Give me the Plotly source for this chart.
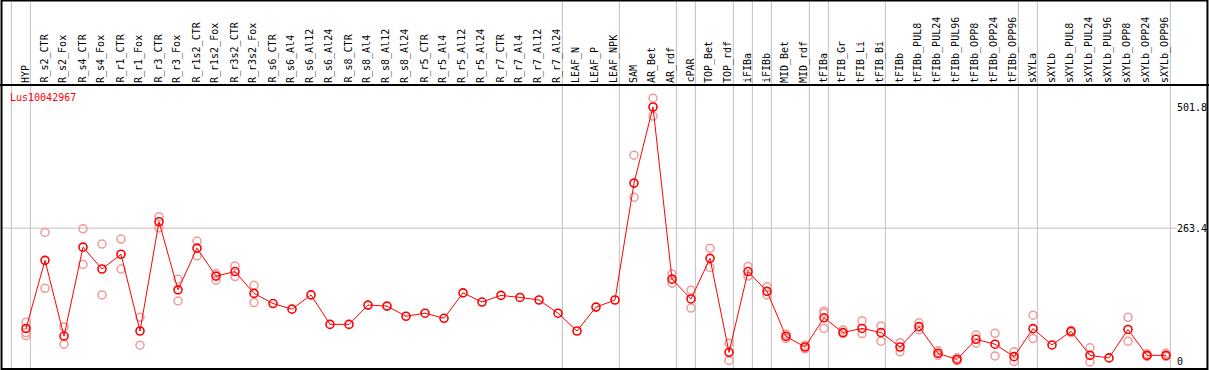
import plotly.graph_objects as go

gene_name = "Lus10042967"

categories = [
    "HYP", "R_s2_CTR", "R_s2_Fox", "R_s4_CTR", "R_s4_Fox", "R_r1_CTR", "R_r1_Fox",
    "R_r3_CTR", "R_r3_Fox", "R_r1s2_CTR", "R_r1s2_Fox", "R_r3s2_CTR", "R_r3s2_Fox",
    "R_s6_CTR", "R_s6_Al4", "R_s6_Al12", "R_s6_Al24", "R_s8_CTR", "R_s8_Al4",
    "R_s8_Al12", "R_s8_Al24", "R_r5_CTR", "R_r5_Al4", "R_r5_Al12", "R_r5_Al24",
    "R_r7_CTR", "R_r7_Al4", "R_r7_Al12", "R_r7_Al24", "LEAF_N", "LEAF_P", "LEAF_NPK",
    "SAM", "AR_Bet", "AR_rdf", "cPAR", "TOP_Bet", "TOP_rdf", "iFIBa", "iFIBb",
    "MID_Bet", "MID_rdf", "tFIBa", "tFIB_Gr", "tFIB_Li", "tFIB_Bi", "tFIBb",
    "tFIBb_PUL8", "tFIBb_PUL24", "tFIBb_PUL96", "tFIBb_OPP8", "tFIBb_OPP24",
    "tFIBb_OPP96", "sXYLa", "sXYLb", "sXYLb_PUL8", "sXYLb_PUL24", "sXYLb_PUL96",
    "sXYLb_OPP8", "sXYLb_OPP24", "sXYLb_OPP96",
]

means = [
    66, 200, 51, 226, 183, 212, 61, 276, 142, 224, 169, 178, 135,
    115, 104, 132, 74, 74, 112, 110, 90, 96, 86, 136, 118, 131, 127, 122, 96,
    61, 108, 122,
    352, 501.8, 163, 124, 204, 19, 178, 139, 50.5, 29.5,
    87, 58, 66, 58, 29.5, 69.5, 17, 5, 44.6, 35, 10.5,
    65.6, 33.5, 60.4, 13, 8, 64, 13, 13,
]

replicates = [
    [78, 58, 52], [255, 145], [69, 35], [262, 192], [232, 132], [242, 183], [88, 33],
    [286, 264], [163, 120], [238, 209], [174, 161], [189, 168], [151, 117],
    [], [], [], [], [], [], [], [], [], [], [], [], [], [], [], [],
    [], [], [],
    [407, 324], [519, 484], [173, 155], [141, 106], [224, 186], [37, 3],
    [188, 169], [148, 132], [55, 46], [33, 26],
    [100, 96, 66], [63, 56], [81, 56], [71, 41], [38, 20], [77, 63], [22, 13],
    [8.5, 2.6], [53, 37], [56.5, 12], [20, 1],
    [92, 46], [], [62, 58], [28, 0], [], [88, 41], [16, 11], [17, 11],
]

# index of the last category of each group (separator drawn after it)
group_ends = [-1, 0, 28, 31, 34, 35, 37, 38, 39, 41, 42, 45, 52, 53, 60]

y_tick_vals = [0, 263.4, 501.8]
y_grid_vals = [263.4]

FONT = "DejaVu Sans Mono"
xs = list(range(len(categories)))

rep_x, rep_y = [], []
for i, reps in enumerate(replicates):
    for v in reps:
        rep_x.append(i)
        rep_y.append(v)

fig = go.Figure()
fig.add_trace(go.Scatter(
    x=rep_x, y=rep_y, mode="markers",
    marker=dict(symbol="circle-open", size=8, color="#f29a9a", line=dict(width=1.5)),
    hoverinfo="skip", showlegend=False,
))
fig.add_trace(go.Scatter(
    x=xs, y=means, mode="lines+markers",
    line=dict(color="#ff0000", width=1),
    marker=dict(symbol="circle-open", size=8, color="#ff0000", line=dict(width=1.6)),
    showlegend=False,
))

shapes = []
for g in group_ends:
    shapes.append(dict(type="line", xref="x", yref="paper", x0=g + 0.23, x1=g + 0.23,
                       y0=0, y1=1.3, line=dict(color="#c0c0c0", width=1), layer="below"))
for v in y_grid_vals:
    shapes.append(dict(type="line", xref="paper", yref="y", x0=0, x1=1, y0=v, y1=v,
                       line=dict(color="#c0c0c0", width=1), layer="below"))
# top separator line and outer frame
shapes.append(dict(type="line", xref="paper", yref="paper", x0=-0.002, x1=1.03, y0=1, y1=1,
                   line=dict(color="black", width=2)))
shapes.append(dict(type="rect", xref="paper", yref="paper", x0=-0.0004, x1=1.0268,
                   y0=0, y1=1.2975, line=dict(color="black", width=2)))

annotations = []
for i, c in enumerate(categories):
    annotations.append(dict(x=i, y=1, xref="x", yref="paper", text=c, textangle=-90,
                            showarrow=False, xanchor="center", yanchor="bottom",
                            xshift=-1, yshift=0, font=dict(family=FONT, size=10, color="black")))
annotations.append(dict(x=0, y=1, xref="paper", yref="paper", text=gene_name,
                        showarrow=False, xanchor="left", yanchor="top", xshift=6, yshift=-5,
                        font=dict(family=FONT, size=10, color="#ff0000")))

fig.update_layout(
    width=1209, height=370,
    margin=dict(l=2, r=33, t=85, b=1),
    paper_bgcolor="white", plot_bgcolor="white",
    shapes=shapes, annotations=annotations,
    xaxis=dict(range=[-1.263, 60.526], showgrid=False, zeroline=False,
               showticklabels=False, ticks=""),
    yaxis=dict(range=[-13.8, 545.1], side="right", showgrid=False, zeroline=False,
               tickvals=y_tick_vals, ticktext=[str(v) for v in y_tick_vals],
               ticks="", tickfont=dict(family=FONT, size=10, color="black")),
)

fig.write_html("out.html", config={"displayModeBar": False},
               post_script="document.body.style.margin='0';")
